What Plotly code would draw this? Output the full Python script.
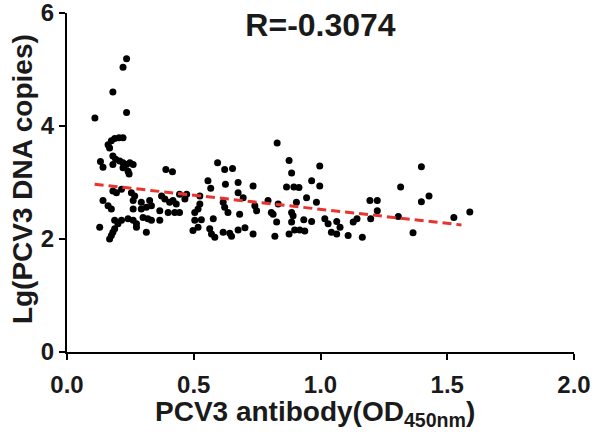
import plotly.graph_objects as go
import numpy as np

# PCV3 antibody OD450nm values (x) and Lg(PCV3 DNA copies) (y)
x_od = [0.235, 0.221, 0.181, 0.235, 0.110, 0.162, 0.168, 0.175, 0.188, 0.205,
        0.221, 0.132, 0.142, 0.181, 0.192, 0.181, 0.208, 0.221, 0.235, 0.248,
        0.261, 0.221, 0.241, 0.245, 0.390, 0.416, 0.181, 0.195, 0.215, 0.254,
        0.267, 0.261, 0.293, 0.326, 0.373, 0.386, 0.405, 0.418, 0.431, 0.142,
        0.162, 0.175, 0.261, 0.293, 0.313, 0.333, 0.366, 0.399, 0.425, 0.188,
        0.215, 0.241, 0.261, 0.274, 0.300, 0.319, 0.333, 0.366, 0.129, 0.201,
        0.188, 0.181, 0.175, 0.168, 0.313, 0.274,
        0.829, 0.594, 0.622, 0.653, 0.556, 0.567, 0.625, 0.675, 0.675, 0.734,
        0.695, 0.444, 0.472, 0.465, 0.524, 0.616, 0.622, 0.741, 0.748, 0.793,
        0.806, 0.833, 0.444, 0.504, 0.517, 0.524, 0.635, 0.681, 0.813, 0.504,
        0.530, 0.577, 0.827, 0.497, 0.517, 0.563, 0.570, 0.583, 0.616, 0.642,
        0.649, 0.675, 0.702, 0.734, 0.820,
        0.876, 0.886, 0.997, 0.866, 0.895, 0.915, 0.965, 0.997, 0.905, 0.945,
        0.984, 1.195, 1.224, 1.224, 0.886, 0.892, 1.017, 1.030, 1.064, 1.077,
        1.129, 1.144, 1.198, 0.886, 0.934, 0.965, 0.898, 0.918, 0.938, 0.876,
        1.043, 1.064, 1.109, 1.165,
        1.398, 1.316, 1.398, 1.428, 1.307, 1.526, 1.589, 1.365]

y_lg = [5.19, 5.04, 4.60, 4.24, 4.14, 3.67, 3.61, 3.74, 3.78, 3.79,
        3.79, 3.37, 3.27, 3.47, 3.41, 3.32, 3.38, 3.35, 3.32, 3.35,
        3.32, 3.26, 3.20, 3.15, 3.23, 3.19, 2.85, 2.82, 2.88, 2.82,
        2.76, 2.68, 2.65, 2.68, 2.76, 2.71, 2.65, 2.68, 2.62, 2.68,
        2.59, 2.53, 2.53, 2.53, 2.56, 2.59, 2.50, 2.47, 2.47, 2.33,
        2.33, 2.36, 2.33, 2.27, 2.38, 2.36, 2.33, 2.33, 2.21, 2.27,
        2.18, 2.12, 2.06, 2.00, 2.12, 2.21,
        3.70, 3.35, 3.23, 3.25, 3.03, 2.90, 2.97, 3.00, 2.82, 2.94,
        2.73, 2.79, 2.79, 2.71, 2.76, 2.65, 2.56, 2.59, 2.50, 2.68,
        2.47, 2.62, 2.47, 2.47, 2.53, 2.62, 2.47, 2.44, 2.44, 2.33,
        2.34, 2.36, 2.30, 2.15, 2.21, 2.18, 2.09, 2.03, 2.12, 2.10,
        2.05, 2.16, 2.20, 2.09, 2.05,
        3.39, 3.17, 3.29, 2.92, 2.92, 2.91, 3.03, 2.94, 2.65, 2.73,
        2.65, 2.68, 2.68, 2.50, 2.47, 2.41, 2.36, 2.27, 2.31, 2.21,
        2.30, 2.36, 2.36, 2.30, 2.34, 2.31, 2.16, 2.16, 2.14, 2.09,
        2.12, 2.09, 2.06, 2.03,
        3.28, 2.92, 2.66, 2.76, 2.40, 2.38, 2.48, 2.11]

# regression line
fit_x_range = [0.109, 1.556]
fit_slope = -0.498
fit_intercept = 3.024

x_ticks = [0.0, 0.5, 1.0, 1.5, 2.0]
x_tick_labels = ["0.0", "0.5", "1.0", "1.5", "2.0"]
y_ticks = [0, 2, 4, 6]
y_tick_labels = ["0", "2", "4", "6"]

title_text = "R=-0.3074"
x_title = "PCV3 antibody(OD<sub>450nm</sub>)"
y_title = "Lg(PCV3 DNA copies)"

fit_x = np.array(fit_x_range)
fit_y = fit_intercept + fit_slope * fit_x

FONT = "Liberation Sans"
TXT = "#1a1a1a"

fig = go.Figure()
fig.add_trace(go.Scatter(
    x=x_od, y=y_lg, mode="markers",
    marker=dict(color="black", size=7, line=dict(width=0)),
    showlegend=False, cliponaxis=False, hoverinfo="skip"))
fig.add_trace(go.Scatter(
    x=fit_x, y=fit_y, mode="lines",
    line=dict(color="#e8332f", width=3, dash="9px,5px"),
    showlegend=False, hoverinfo="skip"))

axis_common = dict(
    showline=True, linecolor="black", linewidth=2,
    ticks="outside", ticklen=6, tickwidth=2, tickcolor="black",
    showgrid=False, zeroline=False, automargin=False,
    ticklabeloverflow="allow",
    tickfont=dict(family=FONT, size=24, color=TXT, weight="bold"),
)

fig.update_layout(
    width=596, height=437,
    margin=dict(l=67, r=22, t=13, b=85, autoexpand=False),
    paper_bgcolor="white", plot_bgcolor="white",
    title=dict(text=title_text, xref="paper", x=0.5, xanchor="center",
               y=1 - 25 / 437, yanchor="middle",
               font=dict(family=FONT, size=32, color=TXT, weight="bold")),
    xaxis=dict(range=[0, 2], tickvals=x_ticks, ticktext=x_tick_labels,
               ticklabelstandoff=4, **axis_common),
    yaxis=dict(range=[0, 6], tickvals=y_ticks, ticktext=y_tick_labels, **axis_common),
    annotations=[
        dict(text=x_title, xref="paper", yref="paper", x=0.49, y=0,
             xanchor="center", yanchor="top", yshift=-42, showarrow=False,
             font=dict(family=FONT, size=28, color=TXT, weight="bold")),
        dict(text=y_title, xref="paper", yref="paper", x=0, y=0.51,
             xanchor="center", yanchor="middle", xshift=-45, textangle=-90,
             showarrow=False,
             font=dict(family=FONT, size=28, color=TXT, weight="bold")),
    ],
)

fig.write_html("out.html",
               config={"displayModeBar": False, "staticPlot": True},
               post_script="document.body.style.margin='0px';"
                           "document.body.style.overflow='hidden';")
